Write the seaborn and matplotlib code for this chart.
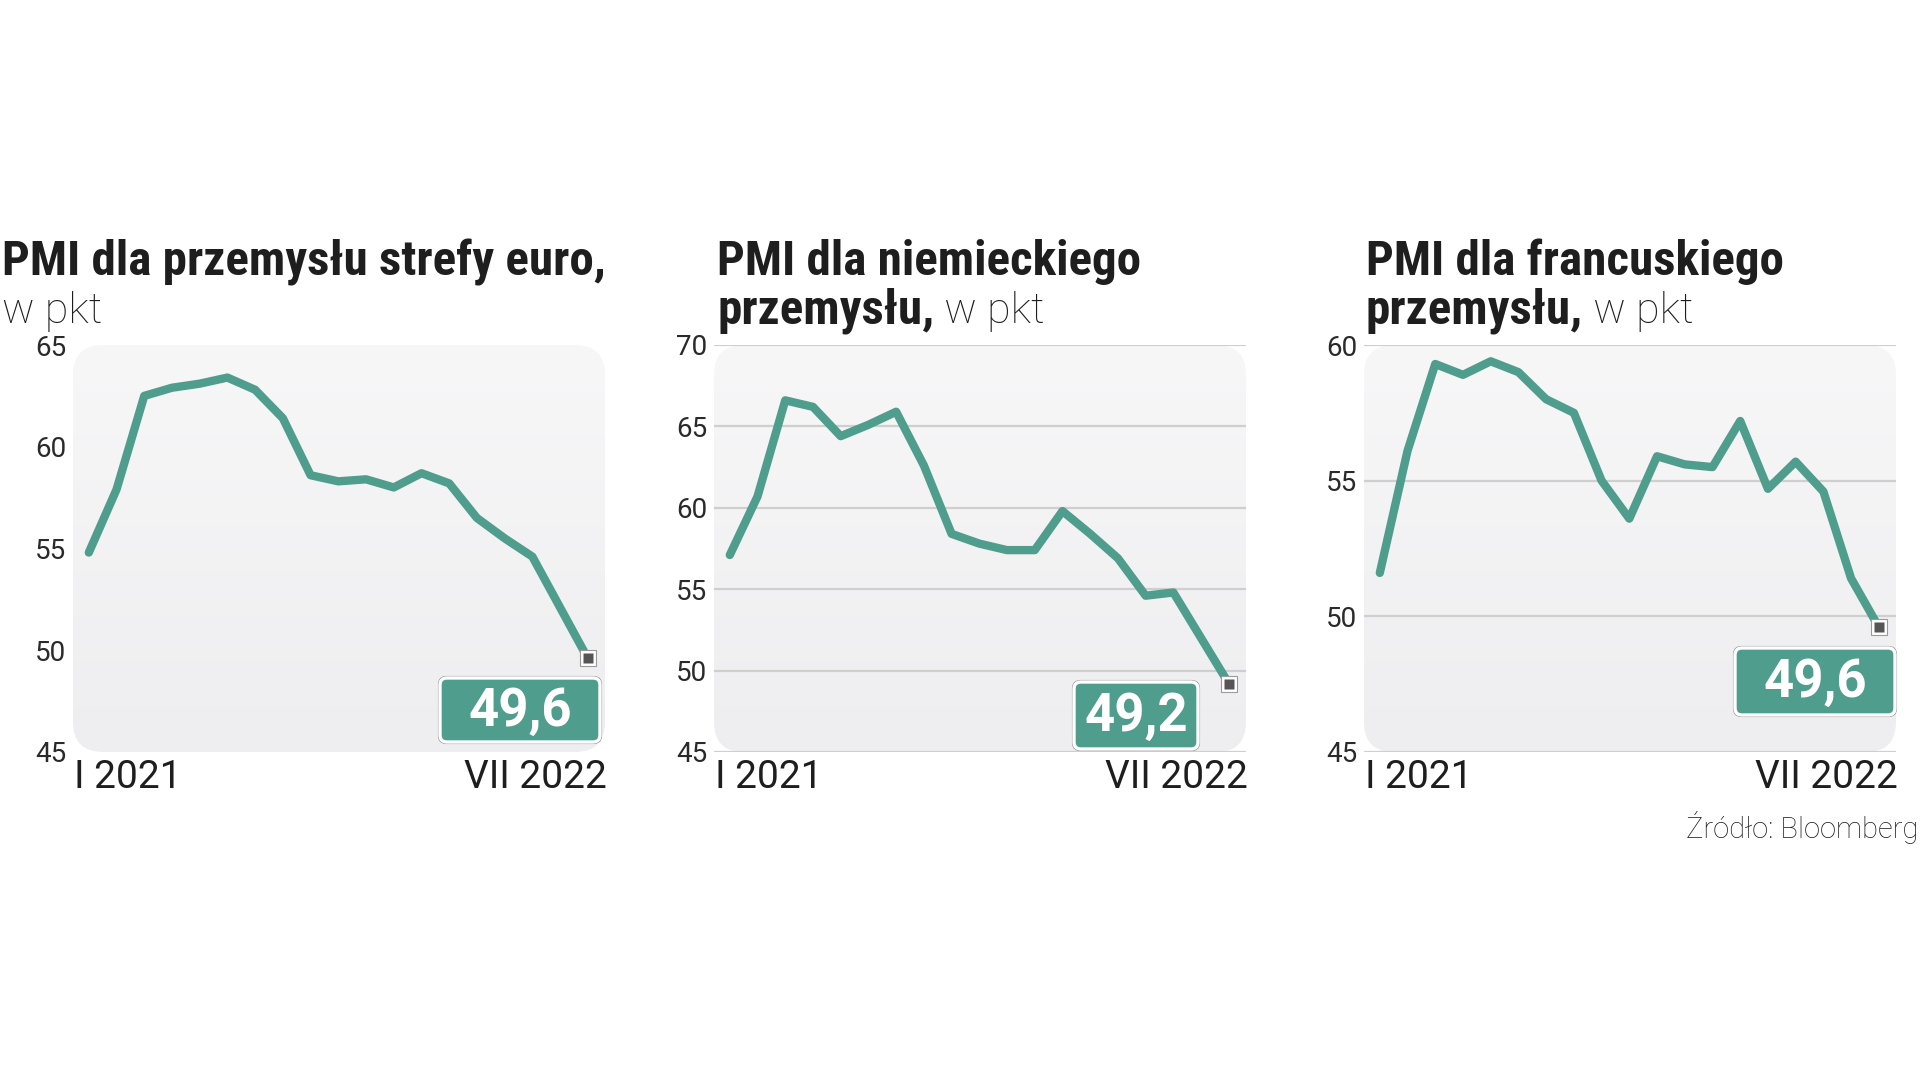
import numpy as np
import matplotlib
matplotlib.use("Agg")
import matplotlib.pyplot as plt
import seaborn as sns
from matplotlib import font_manager as fm
from matplotlib.patches import FancyBboxPatch
from matplotlib.transforms import ScaledTranslation, IdentityTransform
from matplotlib.colors import LinearSegmentedColormap

# ---------------- data ----------------
months = ["I 2021", "II 2021", "III 2021", "IV 2021", "V 2021", "VI 2021", "VII 2021",
          "VIII 2021", "IX 2021", "X 2021", "XI 2021", "XII 2021", "I 2022", "II 2022",
          "III 2022", "IV 2022", "V 2022", "VI 2022", "VII 2022"]
euro = [54.8, 57.9, 62.5, 62.9, 63.1, 63.4, 62.8, 61.4, 58.6, 58.3, 58.4, 58.0,
        58.7, 58.2, 56.5, 55.5, 54.6, 52.1, 49.6]
germany = [57.1, 60.7, 66.6, 66.2, 64.4, 65.1, 65.9, 62.6, 58.4, 57.8, 57.4, 57.4,
           59.8, 58.4, 56.9, 54.6, 54.8, 52.0, 49.2]
france = [51.6, 56.1, 59.3, 58.9, 59.4, 59.0, 58.0, 57.5, 55.0, 53.6, 55.9, 55.6,
          55.5, 57.2, 54.7, 55.7, 54.6, 51.4, 49.6]
yticks_euro = [45, 50, 55, 60, 65]
yticks_germany = [45, 50, 55, 60, 65, 70]
yticks_france = [45, 50, 55, 60]
xtick_labels = ["I 2021", "VII 2022"]
title_euro = [[("PMI dla przemysłu strefy euro,", "bold")], [("w pkt", "light")]]
title_germany = [[("PMI dla niemieckiego", "bold")], [("przemysłu,", "bold"), (" w pkt", "light")]]
title_france = [[("PMI dla francuskiego", "bold")], [("przemysłu,", "bold"), (" w pkt", "light")]]
source_text = "Źródło: Bloomberg"

# ---------------- style ----------------
sns.set_style("white")
avail = {f.name for f in fm.fontManager.ttflist}
def pick(cands):
    for c in cands:
        if c in avail:
            return c
    return "DejaVu Sans"
TITLE_FONT = pick(["Roboto Condensed", "Liberation Sans Narrow", "Roboto"])
BODY_FONT = pick(["Roboto", "Lato", "DejaVu Sans"])
VALUE_FONT = pick(["Roboto", "DejaVu Sans"])
plt.rcParams["font.family"] = [BODY_FONT, "DejaVu Sans"]

GREEN = "#4f9d8c"
TXT = "#1e1e1e"
GRID = "#cfcfcf"

W, H = 1920, 1080
fig = plt.figure(figsize=(W / 100, H / 100), dpi=100)
fig.patch.set_facecolor("white")
renderer = fig.canvas.get_renderer()

panels = [
    dict(vals=euro, yticks=yticks_euro, grid=False, left=73, title=title_euro, tx=2,
         box=(440, 678, 600, 742)),
    dict(vals=germany, yticks=yticks_germany, grid=True, left=714, title=title_germany, tx=717,
         box=(1074, 682, 1198, 749)),
    dict(vals=france, yticks=yticks_france, grid=True, left=1364, title=title_france, tx=1366,
         box=(1735, 648, 1895, 715)),
]
AX_TOP, AX_BOT, AX_W = 345, 752, 532

# fit title font size so that the first title line spans ~604 px
probe = fig.text(0, 0, title_euro[0][0][0], fontsize=30, fontweight="bold", family=TITLE_FONT)
pw = probe.get_window_extent(renderer).width
probe.remove()
TITLE_SIZE = min(35.5, 30 * 604 / pw)

cmap_bg = LinearSegmentedColormap.from_list("bg", ["#eeeef0", "#f7f7f8"])
grad = np.linspace(0, 1, 256).reshape(-1, 1)

for p in panels:
    rect = [p["left"] / W, 1 - AX_BOT / H, AX_W / W, (AX_BOT - AX_TOP) / H]
    # background rounded gradient
    axbg = fig.add_axes(rect, zorder=0)
    axbg.axis("off")
    im = axbg.imshow(grad, extent=[0, 1, 0, 1], aspect="auto", cmap=cmap_bg, origin="lower")
    clip = FancyBboxPatch((p["left"], H - AX_BOT), AX_W, AX_BOT - AX_TOP,
                          boxstyle="round,pad=0,rounding_size=30",
                          transform=IdentityTransform(), facecolor="none", edgecolor="none")
    im.set_clip_path(clip)

    ax = fig.add_axes(rect, zorder=1)
    ax.patch.set_visible(False)
    x = np.arange(len(p["vals"]))
    sns.lineplot(x=x, y=p["vals"], ax=ax, color=GREEN, linewidth=6,
                 solid_capstyle="round", solid_joinstyle="round", zorder=3)
    # end marker
    ax.plot(x[-1:], p["vals"][-1:], marker="s", markersize=11.5, markerfacecolor="white",
            markeredgecolor="#9a9a9a", markeredgewidth=0.8, linestyle="none", zorder=4)
    ax.plot(x[-1:], p["vals"][-1:], marker="s", markersize=7, markerfacecolor="#555555",
            markeredgecolor="none", linestyle="none", zorder=5)

    ax.set_ylim(min(p["yticks"]), max(p["yticks"]))
    ax.set_xlim(-0.57, len(x) - 1 + 0.62)
    ax.set_yticks(p["yticks"])
    ax.set_yticklabels([str(t) for t in p["yticks"]])
    ax.set_xticks([x[0], x[-1]])
    ax.set_xticklabels(xtick_labels)
    for s in ax.spines.values():
        s.set_visible(False)
    ax.tick_params(axis="y", length=0, pad=5, labelsize=20, labelcolor="#2a2a2a")
    ax.tick_params(axis="x", length=0, pad=5, labelsize=28, labelcolor=TXT)
    for lab in ax.get_yticklabels():
        lab.set_fontweight("normal")
    xl = ax.get_xticklabels()
    xl[0].set_ha("left")
    xl[0].set_transform(xl[0].get_transform() + ScaledTranslation(-0.15, 0, fig.dpi_scale_trans))
    xl[1].set_ha("right")
    xl[1].set_transform(xl[1].get_transform() + ScaledTranslation(0.19, 0, fig.dpi_scale_trans))
    for lab in xl:
        lab.set_fontweight("normal")
    if p["grid"]:
        ax.set_axisbelow(True)
        ax.grid(axis="y", color=GRID, linewidth=1.6)
        ax.grid(axis="x", visible=False)
    else:
        ax.grid(False)

    # value label box
    bx0, by0, bx1, by1 = p["box"]
    outer = FancyBboxPatch((bx0 - 1.5, H - by1 - 1.5), bx1 - bx0 + 3, by1 - by0 + 3,
                           boxstyle="round,pad=0,rounding_size=8", transform=IdentityTransform(),
                           facecolor="none", edgecolor="#8c8c8c", linewidth=0.8, zorder=6)
    inner = FancyBboxPatch((bx0, H - by1), bx1 - bx0, by1 - by0,
                           boxstyle="round,pad=0,rounding_size=7", transform=IdentityTransform(),
                           facecolor=GREEN, edgecolor="white", linewidth=2.4, zorder=7)
    fig.add_artist(outer)
    fig.add_artist(inner)
    vtxt = f"{p['vals'][-1]:.1f}".replace(".", ",")
    fig.text((bx0 + bx1) / 2 / W, 1 - ((by0 + by1) / 2 + 1) / H, vtxt, ha="center", va="center",
             fontsize=38, fontweight="bold", family=VALUE_FONT, color="white", zorder=8)

    # title
    baselines = [275, 323]
    for li, line in enumerate(p["title"]):
        xpos = p["tx"]
        for seg, wt in line:
            fam = TITLE_FONT if wt == "bold" else BODY_FONT
            t = fig.text(xpos / W, 1 - baselines[li] / H, seg, ha="left", va="baseline",
                         fontsize=TITLE_SIZE if wt == "bold" else 31,
                         fontweight=wt, family=[fam, "DejaVu Sans"], color=TXT)
            xpos = t.get_window_extent(renderer).x1

fig.text(1918 / W, 1 - 838 / H, source_text, ha="right", va="baseline", fontsize=21,
         fontweight="light", color="#1e1e1e")

fig.savefig("out.png", dpi=100, facecolor="white")
